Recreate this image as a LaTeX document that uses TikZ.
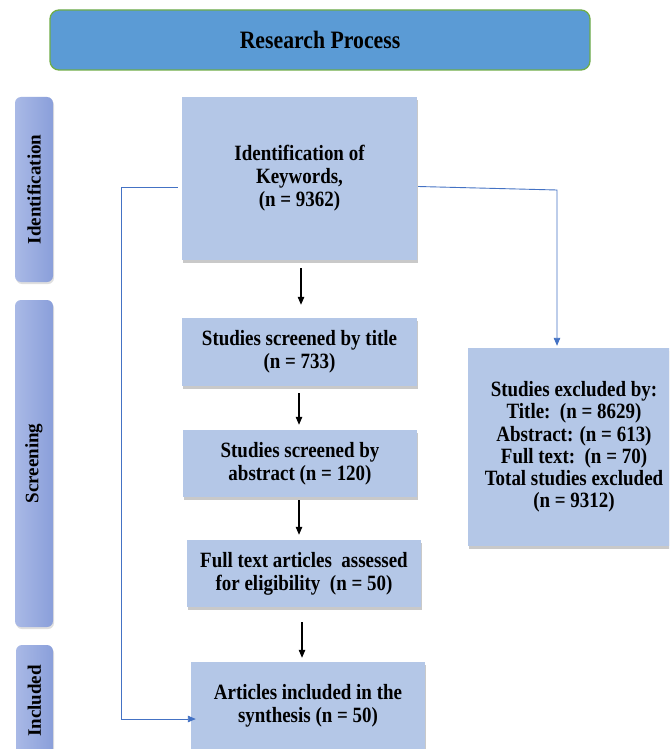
\documentclass[tikz,border=0pt]{standalone}
\usepackage{fontspec}
\setmainfont{Liberation Serif}
\newfontfamily\tnr[FakeStretch=0.87]{Liberation Serif}
\newfontfamily\tnrside{Liberation Serif}
\usetikzlibrary{arrows.meta,shadows,calc}
\definecolor{hdr}{HTML}{5B9BD5}
\definecolor{hdrline}{HTML}{70AD47}
\definecolor{boxfill}{HTML}{B4C7E7}
\definecolor{conn}{HTML}{4472C4}
\definecolor{sideL}{HTML}{A9B9E6}
\definecolor{sideR}{HTML}{8A9FDA}
\begin{document}
\begin{tikzpicture}[x=1pt,y=-1pt,
  font=\tnr\bfseries\fontsize{21.8}{23}\selectfont,
  stagebox/.style={fill=boxfill, draw=none, align=center, inner sep=0pt,
    drop shadow={shadow xshift=1pt, shadow yshift=-3pt, opacity=0.35, fill=black!60}},
  sidebar/.style={rounded corners=6pt, left color=sideL, right color=sideR, draw=none,
    inner sep=0pt, drop shadow={shadow xshift=1pt, shadow yshift=-2pt, opacity=0.25, fill=black!50}},
  sidelabel/.style={rotate=90, font=\tnrside\bfseries\fontsize{19}{23}\selectfont},
  blk/.style={line width=1.1pt, black, -{Triangle[length=8pt,width=6.5pt]}},
  blu/.style={line width=0.9pt, conn, -{Triangle[length=8pt,width=6.5pt]}}]
\clip (0,0) rectangle (669,749);
\fill[white] (0,0) rectangle (669,749);

% header
\node[fill=hdr, draw=hdrline, line width=1.3pt, rounded corners=9pt,
  minimum width=540pt, minimum height=60pt, inner sep=0pt,
  font=\tnr\bfseries\fontsize{25}{28}\selectfont] (head) at (320,40) {Research Process};

% side bars
\node[sidebar, minimum width=38pt, minimum height=185pt] (sid) at (34,189.5) {};
\node[sidelabel] (sidt) at (sid.center) {Identification};
\node[sidebar, minimum width=38pt, minimum height=327pt] (sscr) at (34,463.5) {};
\node[sidelabel] (sscrt) at (sscr.center) {Screening};
\node[sidebar, minimum width=37pt, minimum height=112pt] (sinc) at (34.5,701) {};
\node[sidelabel] (sinct) at (sinc.center) {Included};

% main boxes
\node[stagebox, minimum width=235pt, minimum height=163pt] (ident) at (299.5,178.5)
  {Identification of\\Keywords,\\(n = 9362)};
\node[stagebox, minimum width=235pt, minimum height=68pt] (title) at (299.5,352)
  {Studies screened by title\\(n = 733)};
\node[stagebox, minimum width=234pt, minimum height=67pt] (abs) at (300,463.5)
  {Studies screened by\\abstract (n = 120)};
\node[stagebox, minimum width=234pt, minimum height=67pt] (full) at (304,573.5)
  {Full text articles\ \ assessed\\for eligibility\ \ (n = 50)};
\node[stagebox, minimum width=234pt, minimum height=88pt] (arts) at (308,706)
  {Articles included in the\\synthesis (n = 50)};
\node[stagebox, minimum width=212pt, minimum height=198pt,
  font=\tnr\bfseries\fontsize{21.8}{22.3}\selectfont] (excl) at (574,447)
  {Studies excluded by:\\Title:\ \ (n = 8629)\\Abstract: (n = 613)\\Full text:\ \ (n = 70)\\Total studies excluded\\(n = 9312)};

% black arrows
\draw[blk, shorten <=8pt, shorten >=13pt] (ident.south -| 301,0) -- (title.north -| 301,0);
\draw[blk, shorten <=7pt, shorten >=5pt] (title.south -| 299,0) -- (abs.north -| 299,0);
\draw[blk, shorten <=3pt, shorten >=5pt] (abs.south -| 299,0) -- (full.north -| 299,0);
\draw[blk, shorten <=15pt, shorten >=4pt] (full.south -| 302,0) -- (arts.north -| 302,0);

% blue connectors
\coordinate (rc) at (557,190);
\coordinate (lc) at (121,187);
\coordinate (lb) at (121,719);
\draw[blu, shorten >=2pt] ($(ident.east)+(1,8)$) -- (rc) -- (rc |- excl.north);
\draw[blu, shorten >=-5pt] ($(ident.west)+(-4,8.5)$) -- (lc) -- (lb) -- (lb -| arts.west);
\end{tikzpicture}
\end{document}
